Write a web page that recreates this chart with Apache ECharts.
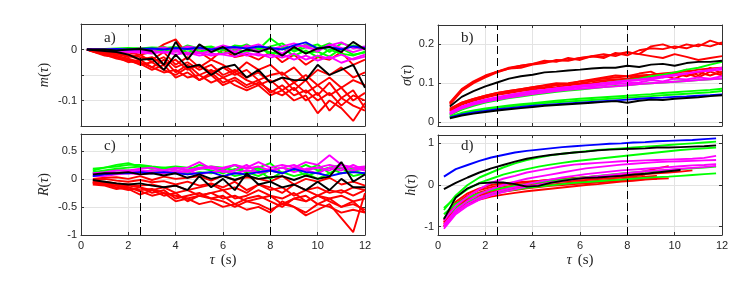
<!DOCTYPE html>
<html><head><meta charset="utf-8">
<script src="https://cdn.jsdelivr.net/npm/echarts@6/dist/echarts.min.js"></script>
<style>html,body{margin:0;padding:0;background:#fff}#c{width:747px;height:297px}</style>
</head><body><div id="c"></div>
<script>
// ---------- x values (tau, s) ----------
const tauA = [0.25,0.5,1,1.5,2,2.5,3,3.5,4,4.5,5,5.5,6,6.5,7,7.5,8,8.5,9,9.5,10,10.5,11,11.5,12];
const tauB = [0.5,1,1.5,2,2.5,3,3.5,4,4.5,5,5.5,6,6.5,7,7.5,8,8.5,9,9.5,10,10.5,11,11.5,12];
const tauC = [0.5,1,1.5,2,2.5,3,3.5,4,4.5,5,5.5,6,6.5,7,7.5,8,8.5,9,9.5,10,10.5,11,11.5,12];
const tauD = [0.25,0.75,1.25,1.75,2.25,2.75,3.25,3.75,4.25,4.75,5.25,5.75,6.25,6.75,7.25,7.75,8.25,8.75,9.25,9.75,10.25,10.75,11.25,11.75];
const markTau = [2.5, 8];

// ---------- panel a: m(tau) ----------
const mRed = [
 [0,0,-0.002,-0.004,-0.006,-0.01,-0.005,0.01,0.02,-0.01,-0.005,-0.02,0.0,-0.015,-0.01,-0.02,-0.005,-0.025,-0.01,-0.03,-0.015,-0.02,-0.005,-0.03,-0.02],
 [0,-0.001,-0.004,-0.007,-0.01,-0.015,-0.02,-0.005,-0.03,-0.015,-0.035,-0.02,-0.03,-0.045,-0.025,-0.04,-0.03,-0.05,-0.035,-0.06,-0.04,-0.05,-0.035,-0.055,-0.045],
 [0,-0.002,-0.006,-0.01,-0.012,-0.02,-0.015,-0.03,-0.02,-0.04,-0.03,-0.045,-0.035,-0.05,-0.04,-0.06,-0.05,-0.045,-0.065,-0.05,-0.07,-0.055,-0.075,-0.06,-0.07],
 [0,-0.003,-0.008,-0.012,-0.018,-0.025,-0.035,-0.02,-0.045,-0.03,-0.05,-0.04,-0.055,-0.045,-0.06,-0.07,-0.06,-0.08,-0.065,-0.085,-0.07,-0.09,-0.075,-0.1,-0.085],
 [0,-0.003,-0.01,-0.015,-0.02,-0.03,-0.025,-0.04,-0.05,-0.035,-0.06,-0.045,-0.065,-0.055,-0.07,-0.06,-0.085,-0.07,-0.09,-0.08,-0.1,-0.085,-0.11,-0.09,-0.1],
 [0,-0.004,-0.01,-0.018,-0.022,-0.028,-0.04,-0.03,-0.055,-0.045,-0.06,-0.05,-0.07,-0.06,-0.075,-0.065,-0.08,-0.09,-0.075,-0.1,-0.085,-0.12,-0.095,-0.11,-0.12],
 [0,-0.004,-0.012,-0.015,-0.025,-0.02,-0.035,-0.045,-0.04,-0.055,-0.05,-0.065,-0.055,-0.07,-0.08,-0.07,-0.09,-0.08,-0.1,-0.09,-0.125,-0.1,-0.115,-0.14,-0.105],
 [0,-0.002,-0.005,-0.008,-0.015,-0.01,-0.025,-0.015,-0.035,-0.025,-0.04,-0.03,-0.05,-0.04,-0.055,-0.045,-0.065,-0.055,-0.08,-0.06,-0.09,-0.065,-0.095,-0.08,-0.115]
];
const mGreen = [
 [0,0,0.001,0.002,0.003,0.002,0.004,0.003,0.005,0.0,0.004,0.006,-0.002,0.008,0.005,0.0,0.022,0.005,-0.003,0.01,0.003,0.012,0.0,0.008,0.004],
 [0,0,-0.001,0.0,-0.002,0.001,-0.003,0.002,-0.004,0.001,-0.006,0.004,-0.008,0.0,-0.005,0.006,-0.01,0.003,-0.012,-0.002,-0.015,0.0,-0.008,-0.012,-0.004],
 [0,0,0.0,0.001,0.0,0.003,0.001,0.005,-0.002,0.008,0.002,-0.003,0.006,0.002,0.01,-0.002,0.006,0.012,-0.004,0.004,0.01,-0.005,0.012,0.006,0.0],
 [0,0,-0.001,-0.001,0.001,-0.002,0.002,-0.004,0.003,-0.006,0.0,-0.005,0.003,-0.008,-0.002,0.004,-0.006,-0.01,0.002,-0.006,-0.004,-0.014,0.002,-0.01,-0.006]
];
const mMagenta = [
 [0,0,-0.001,-0.002,-0.002,-0.004,-0.003,-0.006,-0.004,0.005,-0.008,-0.003,0.006,-0.005,0.008,-0.004,0.004,-0.008,0.006,0.008,-0.004,0.01,0.003,-0.005,0.002],
 [0,0,-0.002,-0.003,-0.005,-0.006,-0.008,-0.004,-0.01,-0.006,-0.012,-0.008,-0.01,-0.014,-0.006,-0.012,-0.01,-0.016,-0.008,-0.02,-0.012,-0.018,-0.01,-0.02,-0.014],
 [0,0,0.0,0.001,-0.001,0.002,0.0,0.004,-0.002,0.006,0.002,0.0,0.008,0.002,0.004,0.01,0.0,0.006,0.012,0.004,0.0,0.008,0.014,0.002,0.006],
 [0,0,-0.001,-0.002,-0.003,-0.002,-0.004,-0.006,-0.003,-0.01,-0.006,-0.012,-0.008,-0.004,-0.012,-0.008,-0.016,-0.01,-0.02,-0.012,-0.022,-0.014,-0.026,-0.018,-0.01]
];
const mBlue = [
 [0,0,0.0,0.001,0.0,0.001,0.002,0.0,0.003,0.001,0.004,0.0,0.003,0.005,0.002,0.006,0.003,0.0,0.008,0.014,0.002,0.005,0.0,0.006,0.003]
];
const mBlack = [
 [0,0,0,-0.002,0,0.001,-0.003,-0.03,0.015,-0.02,0.01,-0.005,0.005,-0.01,0.0,-0.005,0.003,-0.012,0.005,-0.008,0.002,0.005,-0.005,0.015,0.0],
 [0,-0.001,-0.003,-0.005,-0.01,-0.02,-0.018,-0.04,-0.01,-0.035,-0.03,-0.05,-0.035,-0.03,-0.055,-0.04,-0.065,-0.055,-0.06,-0.06,-0.03,-0.05,-0.04,-0.03,-0.075]
];

// ---------- panel b: sigma(tau) ----------
const sRed = [
 [0.05,0.085,0.105,0.12,0.13,0.14,0.145,0.15,0.158,0.155,0.165,0.16,0.17,0.165,0.178,0.172,0.185,0.19,0.188,0.195,0.19,0.2,0.195,0.205],
 [0.045,0.08,0.1,0.115,0.128,0.138,0.14,0.148,0.152,0.16,0.158,0.165,0.17,0.175,0.17,0.18,0.175,0.195,0.2,0.19,0.2,0.195,0.21,0.2],
 [0.048,0.082,0.102,0.118,0.13,0.138,0.145,0.15,0.155,0.158,0.16,0.165,0.168,0.17,0.175,0.18,0.175,0.17,0.165,0.175,0.168,0.16,0.165,0.17],
 [0.035,0.05,0.06,0.068,0.075,0.08,0.085,0.09,0.094,0.098,0.1,0.105,0.108,0.112,0.115,0.118,0.12,0.122,0.125,0.128,0.13,0.135,0.138,0.14],
 [0.03,0.048,0.058,0.065,0.072,0.078,0.082,0.088,0.09,0.095,0.098,0.1,0.105,0.108,0.11,0.112,0.118,0.115,0.12,0.125,0.118,0.128,0.12,0.13],
 [0.028,0.045,0.055,0.063,0.07,0.075,0.08,0.084,0.088,0.09,0.095,0.098,0.1,0.105,0.108,0.11,0.115,0.11,0.12,0.112,0.125,0.115,0.13,0.12],
 [0.032,0.05,0.06,0.068,0.075,0.08,0.085,0.09,0.095,0.1,0.098,0.105,0.11,0.115,0.12,0.118,0.125,0.13,0.115,0.125,0.135,0.12,0.14,0.125]
];
const sGreen = [
 [0.02,0.035,0.045,0.053,0.06,0.066,0.071,0.076,0.08,0.084,0.088,0.092,0.096,0.1,0.104,0.108,0.112,0.118,0.122,0.128,0.135,0.14,0.148,0.155],
 [0.018,0.032,0.042,0.05,0.056,0.062,0.066,0.07,0.074,0.078,0.081,0.084,0.087,0.09,0.093,0.095,0.098,0.1,0.102,0.104,0.106,0.108,0.11,0.112],
 [0.015,0.024,0.03,0.035,0.039,0.043,0.046,0.049,0.052,0.055,0.058,0.06,0.062,0.064,0.066,0.068,0.07,0.072,0.075,0.077,0.079,0.081,0.083,0.086],
 [0.013,0.022,0.028,0.033,0.037,0.04,0.043,0.046,0.049,0.051,0.053,0.055,0.057,0.059,0.061,0.063,0.065,0.067,0.069,0.071,0.073,0.075,0.077,0.08]
];
const sMagenta = [
 [0.025,0.04,0.05,0.058,0.064,0.07,0.075,0.08,0.083,0.087,0.09,0.093,0.096,0.1,0.102,0.105,0.108,0.11,0.115,0.12,0.125,0.13,0.132,0.135],
 [0.022,0.038,0.048,0.055,0.062,0.067,0.072,0.076,0.08,0.083,0.086,0.09,0.092,0.095,0.098,0.1,0.102,0.108,0.105,0.112,0.11,0.115,0.112,0.118],
 [0.02,0.035,0.045,0.052,0.058,0.063,0.068,0.072,0.076,0.08,0.083,0.086,0.088,0.09,0.092,0.095,0.098,0.1,0.102,0.104,0.106,0.108,0.11,0.112],
 [0.024,0.04,0.05,0.057,0.063,0.069,0.074,0.079,0.083,0.087,0.09,0.094,0.097,0.1,0.104,0.107,0.11,0.113,0.118,0.122,0.125,0.13,0.135,0.14]
];
const sBlue = [
 [0.012,0.02,0.025,0.029,0.033,0.036,0.039,0.042,0.044,0.046,0.048,0.05,0.052,0.054,0.056,0.058,0.06,0.062,0.063,0.065,0.066,0.068,0.069,0.071]
];
const sBlack = [
 [0.04,0.065,0.08,0.092,0.102,0.112,0.118,0.122,0.128,0.13,0.133,0.135,0.138,0.14,0.14,0.145,0.142,0.148,0.15,0.145,0.152,0.155,0.155,0.158],
 [0.01,0.017,0.022,0.026,0.03,0.033,0.036,0.039,0.042,0.044,0.046,0.048,0.05,0.052,0.054,0.05,0.055,0.058,0.057,0.06,0.062,0.064,0.067,0.069]
];

// ---------- panel c: R(tau) ----------
const rRed = [
 [0.0,0.02,0.03,0.0,0.05,-0.02,0.04,0.0,0.02,0.05,-0.03,0.06,-0.02,0.03,0.0,-0.05,0.05,-0.1,0.0,-0.05,0.02,-0.1,-0.05,-0.12],
 [-0.05,-0.05,-0.08,-0.1,-0.12,-0.1,-0.15,-0.12,-0.2,-0.15,-0.1,-0.2,-0.15,-0.25,-0.1,-0.2,-0.15,-0.3,-0.2,-0.15,-0.25,-0.2,-0.3,-0.2],
 [-0.07,-0.1,-0.12,-0.15,-0.2,-0.18,-0.25,-0.3,-0.35,-0.3,-0.25,-0.35,-0.3,-0.4,-0.35,-0.3,-0.45,-0.35,-0.4,-0.3,-0.4,-0.5,-0.45,-0.55],
 [-0.08,-0.1,-0.15,-0.2,-0.15,-0.25,-0.2,-0.35,-0.3,-0.25,-0.35,-0.4,-0.5,-0.4,-0.45,-0.55,-0.45,-0.5,-0.6,-0.45,-0.5,-0.6,-0.55,-0.6],
 [-0.1,-0.12,-0.18,-0.15,-0.22,-0.3,-0.25,-0.4,-0.35,-0.45,-0.4,-0.5,-0.45,-0.55,-0.5,-0.6,-0.4,-0.5,-0.65,-0.55,-0.45,-0.7,-0.95,-0.25],
 [-0.05,-0.08,-0.12,-0.18,-0.28,-0.2,-0.3,-0.25,-0.4,-0.3,-0.35,-0.3,-0.45,-0.35,-0.3,-0.4,-0.5,-0.35,-0.3,-0.45,-0.35,-0.3,-0.4,-0.35],
 [-0.06,-0.08,-0.1,-0.12,-0.15,-0.2,-0.15,-0.25,-0.2,-0.3,-0.25,-0.2,-0.35,-0.3,-0.2,-0.3,-0.35,-0.25,-0.4,-0.3,-0.35,-0.5,-0.4,-0.6],
 [-0.02,0.0,-0.03,-0.05,-0.02,-0.06,-0.04,-0.1,-0.05,-0.12,-0.08,-0.15,-0.05,-0.2,-0.1,-0.15,-0.25,-0.1,-0.2,-0.3,-0.2,-0.25,-0.15,-0.2]
];
const rGreen = [
 [0.15,0.2,0.25,0.28,0.22,0.2,0.18,0.2,0.15,0.25,0.2,0.15,0.25,0.1,0.2,0.28,0.1,0.2,0.15,0.25,0.1,0.2,0.15,0.18],
 [0.12,0.15,0.18,0.2,0.22,0.18,0.2,0.15,0.1,0.2,0.15,0.1,0.18,0.12,0.05,0.15,0.1,0.2,0.05,0.12,0.2,0.1,0.15,0.08],
 [0.1,0.12,0.15,0.15,0.12,0.15,0.1,0.15,0.08,0.12,0.1,0.15,0.05,0.1,0.15,0.0,0.12,0.05,0.1,0.0,0.1,0.2,0.05,0.1],
 [0.18,0.2,0.22,0.25,0.25,0.22,0.2,0.22,0.2,0.18,0.22,0.2,0.15,0.2,0.18,0.15,0.2,0.15,0.25,0.15,0.2,0.25,0.18,0.2]
];
const rMagenta = [
 [0.05,0.08,0.1,0.12,0.12,0.15,0.15,0.18,0.2,0.3,0.18,0.2,0.25,0.2,0.3,0.2,0.25,0.2,0.3,0.25,0.42,0.25,0.2,0.22],
 [0.08,0.1,0.1,0.12,0.15,0.12,0.1,0.15,0.12,0.18,0.2,0.12,0.15,0.25,0.1,0.15,0.2,0.12,0.18,0.2,0.15,0.25,0.2,0.15],
 [0.05,0.05,0.08,0.1,0.08,0.1,0.12,0.1,0.15,0.08,0.12,0.15,0.1,0.15,0.12,0.18,0.1,0.2,0.15,0.1,0.2,0.15,0.25,0.15],
 [0.1,0.12,0.15,0.15,0.18,0.2,0.15,0.2,0.15,0.2,0.22,0.18,0.25,0.18,0.22,0.15,0.2,0.25,0.15,0.2,0.25,0.2,0.15,0.2]
];
const rBlue = [
 [0.05,0.08,0.1,0.1,0.12,0.1,0.12,0.1,0.08,0.1,0.12,0.05,0.1,0.08,0.12,0.15,0.1,0.18,0.12,0.1,0.05,0.1,0.12,0.1]
];
const rBlack = [
 [0.08,0.1,0.1,0.12,0.08,0.1,0.06,0.1,0.02,0.08,0.0,0.05,-0.02,0.06,0.0,0.03,0.05,-0.02,0.06,0.0,0.04,0.3,-0.05,0.08],
 [-0.02,-0.05,-0.08,-0.1,-0.08,-0.12,-0.15,-0.12,-0.2,0.05,-0.15,0.0,-0.2,0.1,-0.1,-0.05,-0.15,-0.1,-0.2,-0.05,-0.2,0.0,-0.15,-0.15]
];

// ---------- panel d: h(tau) ----------
const hRed = [
 [-0.85,-0.45,-0.25,-0.12,-0.05,0.0,0.04,0.07,0.1,0.13,0.15,0.17,0.19,0.21,0.23,0.25,0.28,0.33,0.4,0.45,null,null,null,null],
 [-0.9,-0.5,-0.3,-0.18,-0.1,-0.05,-0.01,0.03,0.06,0.09,0.12,0.14,0.16,0.18,0.2,0.22,0.24,0.26,0.28,0.3,0.32,0.35,null,null],
 [-0.95,-0.55,-0.35,-0.22,-0.14,-0.08,-0.04,0.0,0.03,0.06,0.08,0.1,0.12,0.14,0.16,0.18,0.2,0.25,null,null,null,null,null,null],
 [-1.0,-0.6,-0.4,-0.3,-0.22,-0.16,-0.12,-0.08,-0.05,-0.02,0.0,0.02,0.04,0.06,0.08,0.1,0.12,0.14,0.15,0.16,null,null,null,null],
 [-0.85,-0.4,-0.2,-0.08,0.0,0.04,0.06,0.08,0.1,0.12,0.14,0.16,0.18,0.2,0.22,0.24,0.26,null,null,null,null,null,null,null],
 [-0.9,-0.55,-0.35,-0.25,-0.18,-0.12,-0.08,-0.05,-0.02,0.01,0.04,0.06,0.08,0.1,0.12,0.14,0.17,0.2,0.22,null,null,null,null,null],
 [-1.0,-0.65,-0.45,-0.35,-0.28,-0.23,-0.19,-0.15,-0.12,-0.09,-0.06,-0.03,0.0,0.02,0.05,0.08,0.1,0.13,0.15,null,null,null,null,null]
];
const hGreen = [
 [-0.6,-0.25,0.0,0.18,0.3,0.42,0.52,0.6,0.66,0.71,0.75,0.78,0.81,0.84,0.86,0.88,0.9,0.92,0.94,0.96,0.98,1.0,1.02,1.04],
 [-0.55,-0.3,-0.1,0.05,0.15,0.25,0.32,0.38,0.44,0.49,0.53,0.57,0.6,0.63,0.66,0.69,0.72,0.75,0.78,0.81,0.84,0.86,0.88,0.9],
 [-0.7,-0.45,-0.3,-0.2,-0.13,-0.07,-0.02,0.02,0.06,0.1,0.13,0.16,0.19,0.22,0.25,0.28,0.3,0.32,0.34,0.36,0.38,0.4,0.42,0.44],
 [-0.8,-0.55,-0.4,-0.3,-0.22,-0.16,-0.11,-0.07,-0.04,-0.01,0.02,0.05,0.07,0.09,0.11,0.13,0.15,0.17,0.19,0.2,0.22,0.24,0.26,0.28]
];
const hMagenta = [
 [-0.85,-0.5,-0.28,-0.1,0.05,0.15,0.22,0.3,0.35,0.4,0.45,0.49,0.51,0.53,0.55,0.57,0.58,0.59,0.6,0.61,0.62,0.63,0.65,0.7],
 [-0.95,-0.6,-0.38,-0.22,-0.1,0.0,0.08,0.15,0.2,0.25,0.3,0.35,0.4,0.43,0.46,0.49,0.51,0.53,0.55,0.56,0.57,0.58,0.59,0.6],
 [-1.0,-0.65,-0.45,-0.3,-0.2,-0.12,-0.05,0.02,0.08,0.13,0.18,0.22,0.26,0.29,0.32,0.35,0.37,0.39,0.41,0.43,0.45,0.47,0.48,0.5],
 [-1.05,-0.7,-0.5,-0.35,-0.25,-0.17,-0.1,-0.04,0.01,0.06,0.1,0.14,0.18,0.21,0.24,0.27,0.3,0.33,0.35,0.37,0.39,0.41,0.43,0.46]
];
const hBlue = [
 [0.2,0.38,0.48,0.58,0.66,0.72,0.78,0.82,0.85,0.88,0.91,0.93,0.95,0.97,0.99,1.0,1.02,1.03,1.05,1.06,1.07,1.08,1.1,1.12]
];
const hBlack = [
 [-0.1,0.05,0.18,0.3,0.4,0.48,0.56,0.63,0.68,0.72,0.75,0.78,0.8,0.83,0.85,0.86,0.87,0.88,0.9,0.9,0.91,0.92,0.93,0.95],
 [-0.82,-0.3,-0.08,0.04,0.06,0.06,0.02,-0.04,-0.02,0.05,0.1,0.14,0.17,0.18,0.2,0.22,0.25,0.27,0.3,0.33,0.36,null,null,null]
];

// ---------- axis tick values ----------
const yTicksA = [-0.15,-0.1,-0.05,0,0.05];
const yLabelsA = [-0.1,0];
const yTicksB = [0,0.1,0.2];
const yTicksC = [-1,-0.5,0,0.5];
const yTicksD = [-1,0,1];

// ---------- build chart ----------
const COLORS = {red:'#ff0000', green:'#00ff00', magenta:'#ff00ff', blue:'#0000ff', black:'#000000'};
const TXT = '#262626';
const series = [];
function addLines(gi, tau, sets, color) {
  sets.forEach(vals => {
    const data = [];
    vals.forEach((v, i) => { if (v !== null) data.push([tau[i], v]); });
    series.push({
      type: 'line', xAxisIndex: gi, yAxisIndex: gi, data: data,
      showSymbol: false, symbol: 'none', silent: true, z: 3,
      lineStyle: {color: color, width: 1.9}, itemStyle: {color: color},
      animation: false
    });
  });
}
function addMarks(gi) {
  series.push({
    type: 'line', xAxisIndex: gi, yAxisIndex: gi, data: [], z: 2, silent: true,
    markLine: {
      silent: true, symbol: ['none','none'], label: {show: false}, animation: false,
      lineStyle: {color: '#000', width: 1, type: [8, 4]},
      data: markTau.map(t => ({xAxis: t}))
    }
  });
}
const panels = [
  {tau: tauA, sets: [mRed, mGreen, mMagenta, mBlue, mBlack]},
  {tau: tauB, sets: [sRed, sGreen, sMagenta, sBlue, sBlack]},
  {tau: tauC, sets: [rRed, rGreen, rMagenta, rBlue, rBlack]},
  {tau: tauD, sets: [hRed, hGreen, hMagenta, hBlue, hBlack]}
];
const colOrder = ['red','green','magenta','blue','black'];
panels.forEach((p, gi) => {
  addMarks(gi);
  p.sets.forEach((s, k) => addLines(gi, p.tau, s, COLORS[colOrder[k]]));
});

const grids = [
  {left: 81, top: 24, width: 284, height: 102},
  {left: 438, top: 25, width: 284, height: 101},
  {left: 81, top: 134, width: 284, height: 101},
  {left: 438, top: 135, width: 284, height: 100}
];
const fmt = v => {
  const r = Math.round(v * 1000) / 1000;
  return String(r);
};
const axisLineStyle = {show: true, lineStyle: {color: '#333', width: 1}};
const gridLine = {show: true, lineStyle: {color: '#e3e3e3', width: 1}};
const xAxes = [], yAxes = [];
const xLabelShow = [false, false, true, true];
grids.forEach((g, gi) => {
  xAxes.push({
    type: 'value', gridIndex: gi, min: 0, max: 12, interval: 2, position: 'bottom',
    axisLine: Object.assign({onZero: false}, axisLineStyle),
    axisTick: {show: true, inside: true, length: 3, lineStyle: {color: '#333'}},
    splitLine: gridLine,
    axisLabel: {show: xLabelShow[gi], color: TXT, fontSize: 11, fontFamily: 'Liberation Sans', margin: 5},
    name: xLabelShow[gi] ? '{t|τ}{s|(s)}' : '',
    nameLocation: 'middle', nameGap: 18,
    nameTextStyle: {rich: {
      t: {fontFamily: 'Liberation Serif', fontStyle: 'italic', fontSize: 15, color: TXT, padding: [0, 6, 0, 0]},
      s: {fontFamily: 'Liberation Serif', fontSize: 15, color: TXT}
    }}
  });
});
grids.forEach((g, gi) => {
  xAxes.push({
    type: 'value', gridIndex: gi, min: 0, max: 12, interval: 2, position: 'top',
    axisLine: Object.assign({onZero: false}, axisLineStyle),
    axisTick: {show: true, inside: true, length: 3, lineStyle: {color: '#333'}},
    splitLine: {show: false}, axisLabel: {show: false}
  });
});
const yConf = [
  {min: -0.15, max: 0.05, ticks: yTicksA, labels: yLabelsA, name: '{i|m}{n|(}{i|τ}{n|)}', gap: 30},
  {min: -0.01, max: 0.25, ticks: yTicksB, labels: yTicksB, name: '{i|σ}{n|(}{i|τ}{n|)}', gap: 21},
  {min: -1, max: 0.8, ticks: yTicksC, labels: yTicksC, name: '{i|R}{n|(}{i|τ}{n|)}', gap: 30},
  {min: -1.2, max: 1.2, ticks: yTicksD, labels: yTicksD, name: '{i|h}{n|(}{i|τ}{n|)}', gap: 20}
];
const nameRich = {
  i: {fontFamily: 'Liberation Serif', fontStyle: 'italic', fontSize: 14, color: TXT},
  n: {fontFamily: 'Liberation Serif', fontSize: 14, color: TXT}
};
yConf.forEach((c, gi) => {
  yAxes.push({
    type: 'value', gridIndex: gi, min: c.min, max: c.max, position: 'left',
    axisLine: Object.assign({onZero: false}, axisLineStyle),
    axisTick: {show: true, inside: true, length: 3, customValues: c.ticks, lineStyle: {color: '#333'}},
    splitLine: gridLine,
    axisLabel: {show: true, customValues: c.labels, formatter: fmt, color: TXT, fontSize: 11, fontFamily: 'Liberation Sans', margin: 4},
    name: c.name, nameLocation: 'middle', nameGap: c.gap, nameRotate: 90,
    nameTextStyle: {rich: nameRich}
  });
});
yConf.forEach((c, gi) => {
  yAxes.push({
    type: 'value', gridIndex: gi, min: c.min, max: c.max, position: 'right',
    axisLine: Object.assign({onZero: false}, axisLineStyle),
    axisTick: {show: true, inside: true, length: 3, customValues: c.ticks, lineStyle: {color: '#333'}},
    splitLine: {show: false}, axisLabel: {show: false}
  });
});

const panelLabels = [
  {text: 'a)', x: 104, y: 40},
  {text: 'b)', x: 461, y: 40},
  {text: 'c)', x: 104, y: 148},
  {text: 'd)', x: 461, y: 148}
];
const chart = echarts.init(document.getElementById('c'), null, {renderer: 'canvas'});
chart.setOption({
  animation: false,
  backgroundColor: '#ffffff',
  grid: grids,
  xAxis: xAxes,
  yAxis: yAxes,
  series: series,
  graphic: panelLabels.map(p => ({
    type: 'text', left: p.x, top: p.y - 9, z: 100,
    style: {text: p.text, fill: TXT, font: '15px "Liberation Serif"'}
  }))
});
</script></body></html>
